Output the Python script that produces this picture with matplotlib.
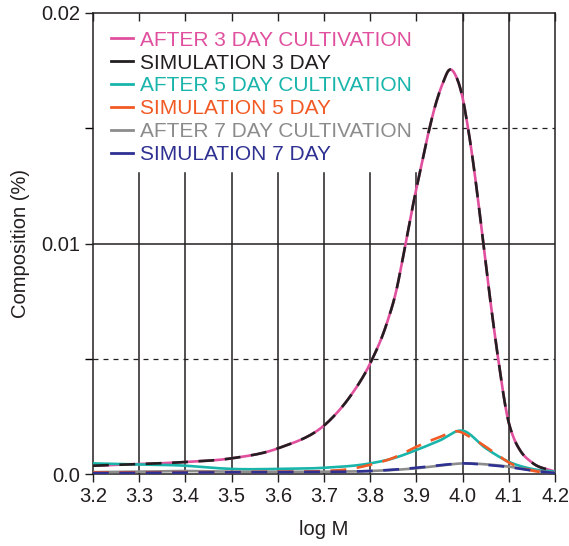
import numpy as np
import matplotlib
matplotlib.use("Agg")
import matplotlib.pyplot as plt
from matplotlib.lines import Line2D
from matplotlib.ticker import FixedLocator, FixedFormatter

plt.rcParams['font.family'] = ['Liberation Sans', 'DejaVu Sans']

# (log M vs composition %)
x3 = [3.2, 3.3, 3.4, 3.5, 3.6, 3.713, 3.756, 3.80, 3.836, 3.857, 3.871, 3.897,
      3.911, 3.926, 3.944, 3.958, 3.971, 3.987, 3.998, 4.011, 4.023, 4.034, 4.046,
      4.066, 4.077, 4.099, 4.112, 4.124, 4.15, 4.2]
after3 = [0.00036, 0.00043, 0.00052, 0.00068, 0.00111, 0.00234, 0.00335, 0.0048, 0.00654,
          0.0080, 0.0094, 0.0121, 0.0134, 0.0148, 0.0162, 0.0170, 0.01753,
          0.0172, 0.0165, 0.0151, 0.0135, 0.0118, 0.0098, 0.0066, 0.0050, 0.0023,
          0.0015, 0.00104, 0.0005, 0.0001]
sim3 = after3

x5 = [3.2, 3.3, 3.4, 3.45, 3.5, 3.6, 3.7, 3.8, 3.85, 3.9, 3.95, 4.0, 4.05, 4.1, 4.15, 4.2]
after5 = [0.00046, 0.00041, 0.00036, 0.00028, 0.00022, 0.00022, 0.00027, 0.00046, 0.00068,
          0.00104, 0.00145, 0.00188, 0.00112, 0.00053, 0.00022, 0.0001]
xs5 = [3.2, 3.3, 3.4, 3.5, 3.6, 3.7, 3.75, 3.8, 3.85, 3.9, 3.95, 3.99, 4.02, 4.07, 4.1, 4.15, 4.2]
sim5 = [0.00007, 0.00007, 0.00008, 0.00008, 0.0001, 0.00013, 0.0002, 0.0004, 0.0007,
        0.00118, 0.0016, 0.00185, 0.00156, 0.00091, 0.0005, 0.00015, 0.00003]

x7 = [3.2, 3.3, 3.4, 3.5, 3.6, 3.7, 3.8, 3.9, 3.95, 4.0, 4.05, 4.1, 4.15, 4.2]
after7 = [0.00008, 0.0001, 0.00013, 0.0001, 0.0001, 0.0001, 0.00013, 0.00025, 0.00036,
          0.00046, 0.00042, 0.00032, 0.00017, 0.00005]
sim7 = [0.00004, 0.00005, 0.00006, 0.00007, 0.00008, 0.00009, 0.00013, 0.00027, 0.00038,
        0.00046, 0.0004, 0.0003, 0.00015, 0.00004]

labels = ['AFTER 3 DAY CULTIVATION', 'SIMULATION 3 DAY', 'AFTER 5 DAY CULTIVATION',
          'SIMULATION 5 DAY', 'AFTER 7 DAY CULTIVATION', 'SIMULATION 7 DAY']
colors = ['#e0509e', '#231f20', '#19b5ab', '#f15a24', '#8c8c8c', '#2e3192']


def smooth(xs, ys, n=500):
    # cubic hermite through the read points
    xs = np.asarray(xs, float)
    ys = np.asarray(ys, float)
    xx = np.linspace(xs[0], xs[-1], n)
    h = np.diff(xs)
    d = np.diff(ys) / h
    m = np.zeros_like(ys)
    m[1:-1] = (d[:-1] * h[1:] + d[1:] * h[:-1]) / (h[:-1] + h[1:])
    m[0], m[-1] = d[0], d[-1]
    idx = np.clip(np.searchsorted(xs, xx) - 1, 0, len(xs) - 2)
    t = (xx - xs[idx]) / h[idx]
    h00 = 2 * t**3 - 3 * t**2 + 1
    h10 = t**3 - 2 * t**2 + t
    h01 = -2 * t**3 + 3 * t**2
    h11 = t**3 - t**2
    yy = h00 * ys[idx] + h10 * h[idx] * m[idx] + h01 * ys[idx + 1] + h11 * h[idx] * m[idx + 1]
    return xx, yy


fig = plt.figure(figsize=(5.69, 5.46), dpi=100)
ax = fig.add_axes([93 / 569, 1 - 474 / 546, 462 / 569, 461 / 546])

# grid
for xv in [3.3, 3.4, 3.5, 3.6, 3.7, 3.8, 3.9]:
    ax.plot([xv, xv], [0, 0.01306], color='#231f20', lw=1.1, zorder=1)
for xv in [4.0, 4.1]:
    ax.axvline(xv, color='#231f20', lw=1.1, zorder=1)
ax.axhline(0.01, color='#231f20', lw=1.1, zorder=1)
ax.axhline(0.005, color='#231f20', lw=0.9, ls=(0, (4, 4)), zorder=1)
ax.plot([3.912, 4.2], [0.015, 0.015], color='#231f20', lw=0.9, ls=(0, (4, 4)), zorder=1)

dash = (0, (6, 4))
xx, yy = smooth(x3, after3)
ax.plot(xx, yy, color=colors[0], lw=1.9, zorder=3)
xx, yy = smooth(x3, sim3)
ax.plot(xx, yy, color=colors[1], lw=1.9, ls=dash, zorder=4)
xx, yy = smooth(x5, after5)
ax.plot(xx, yy, color=colors[2], lw=1.9, zorder=3)
xx, yy = smooth(xs5, sim5)
ax.plot(xx, yy, color=colors[3], lw=1.9, ls=dash, zorder=4)
xx, yy = smooth(x7, after7)
ax.plot(xx, yy, color=colors[4], lw=1.9, zorder=3)
xx, yy = smooth(x7, sim7)
ax.plot(xx, yy, color=colors[5], lw=1.9, ls=dash, zorder=4)

handles = [Line2D([], [], color=c, lw=2) for c in colors]
leg = ax.legend(handles, labels, loc='upper left', bbox_to_anchor=(0.021, 0.980),
                frameon=False, fontsize=15, handlelength=1.05, handletextpad=0.33,
                labelspacing=0.19, borderaxespad=0, labelcolor=colors)

ax.set_xlim(3.2, 4.2)
ax.set_ylim(0, 0.02)
ax.set_xticks(np.round(np.arange(3.2, 4.21, 0.1), 1))
ax.set_xticklabels([f'{v:.1f}' for v in np.arange(3.2, 4.21, 0.1)])
ax.yaxis.set_major_locator(FixedLocator([0, 0.01, 0.02]))
ax.yaxis.set_major_formatter(FixedFormatter(['0.0', '0.01', '0.02']))
ax.yaxis.set_minor_locator(FixedLocator([0.005, 0.015]))
ax.tick_params(axis='both', which='major', labelsize=14.5, direction='out', length=6,
               width=1, color='#231f20', labelcolor='#231f20')
ax.tick_params(axis='y', which='minor', direction='out', length=6, width=1)
ax.tick_params(axis='x', top=True, which='major')
for t in ax.xaxis.get_ticklines()[1::2]:
    t.set_marker(3)
for s in ax.spines.values():
    s.set_color('#231f20')
    s.set_linewidth(1.1)

ax.set_xlabel('log M', fontsize=14.5, color='#231f20', labelpad=10)
ax.set_ylabel('Composition (%)', fontsize=14.5, color='#231f20', labelpad=8)

fig.savefig('out.png', dpi=100)
